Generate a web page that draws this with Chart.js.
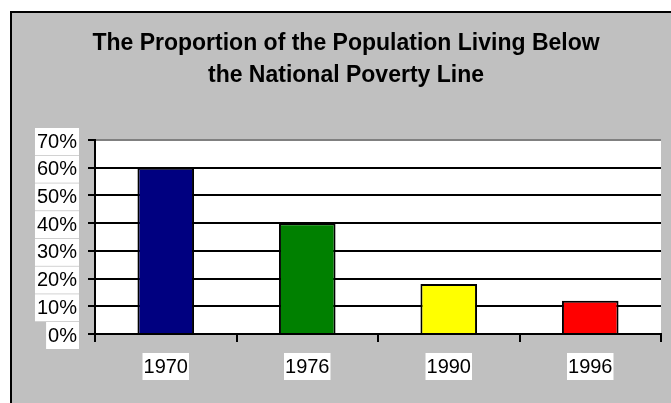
<!DOCTYPE html>
<html>
<head>
<meta charset="utf-8">
<script src="https://cdn.jsdelivr.net/npm/chart.js@4.4.0/dist/chart.umd.min.js"></script>
<style>
  html, body { margin: 0; padding: 0; background: #fff; }
  #wrap { width: 671px; height: 403px; }
</style>
</head>
<body>
<div id="wrap"><canvas id="povertyChart" width="671" height="403"></canvas></div>
<script>
const years = ['1970', '1976', '1990', '1996'];
const povertyShare = [60, 40, 18, 12];
const barColors = ['#000080', '#008000', '#ffff00', '#ff0000'];
const titleLines = ['The Proportion of the Population Living Below', 'the National Poverty Line'];
const yTicksMax = 70;
const yTicksStep = 10;

document.addEventListener('DOMContentLoaded', function() {
  if (!document.getElementById('povertyChart')) return;
  initPovertyChart();
});

// gray frame, white plot area and the two-line title
const frame = {
  id: 'frame',
  beforeDraw(chart) {
    const c = chart.ctx;
    const a = chart.chartArea;
    c.save();
    c.fillStyle = '#ffffff';
    c.fillRect(0, 0, chart.width, chart.height);
    c.fillStyle = '#c0c0c0';
    c.fillRect(10, 11, chart.width, chart.height);
    c.strokeStyle = '#000';
    c.lineWidth = 2;
    c.beginPath();
    c.moveTo(11, chart.height + 5);
    c.lineTo(11, 12);
    c.lineTo(chart.width + 5, 12);
    c.stroke();
    c.fillStyle = '#ffffff';
    c.fillRect(a.left, a.top, a.right - a.left, a.bottom - a.top);
    c.fillStyle = '#000';
    c.font = 'bold 23px "Liberation Sans", Arial, sans-serif';
    c.textAlign = 'center';
    c.textBaseline = 'alphabetic';
    c.fillText(titleLines[0], 346, 50);
    c.fillText(titleLines[1], 346, 82);
    c.restore();
  }
};

function initPovertyChart() {
  const ctx = document.getElementById('povertyChart');
  const labelFont = { family: '"Liberation Sans", Arial, sans-serif', size: 20 };
  const data = {
    labels: years,
    datasets: [{
      data: povertyShare,
      backgroundColor: barColors,
      borderColor: '#000',
      borderWidth: 2,
      borderSkipped: 'bottom',
      barPercentage: 0.4,
      categoryPercentage: 1,
    }]
  };
  const options = {
    responsive: false,
    animation: false,
    layout: { padding: { top: 140, right: 10, left: 0, bottom: 0 } },
    plugins: {
      legend: { display: false },
      tooltip: { enabled: false },
    },
    scales: {
      x: {
        offset: true,
        grid: {
          offset: true,
          drawOnChartArea: true,
          color: (c) => c.index === years.length ? '#808080' : 'rgba(0,0,0,0)',
          lineWidth: 2,
          tickColor: '#000',
          tickLength: 8,
        },
        border: { color: '#000', width: 2 },
        ticks: {
          color: '#000',
          font: labelFont,
          padding: 13,
          showLabelBackdrop: true,
          backdropColor: '#ffffff',
          backdropPadding: { left: 1, right: 1, top: 2, bottom: 1 },
        },
        afterFit: (scale) => { scale.height = 69; },
      },
      y: {
        min: 0,
        max: yTicksMax,
        grid: {
          color: (c) => c.tick && c.tick.value === yTicksMax ? '#808080' : '#000',
          lineWidth: 2,
          tickColor: '#000',
          tickLength: 7,
        },
        border: { color: '#000', width: 2 },
        ticks: {
          stepSize: yTicksStep,
          color: '#000',
          font: labelFont,
          padding: 11,
          labelOffset: 2,
          callback: (v) => v + '%',
          showLabelBackdrop: true,
          backdropColor: '#ffffff',
          backdropPadding: { left: 2, right: 2, top: 2, bottom: 1 },
        },
        afterFit: (scale) => { scale.width = 95; },
      },
    },
  };
  new Chart(ctx, {
    type: 'bar',
    data: data,
    options: options,
    plugins: [frame],
  });
}
</script>
</body>
</html>
